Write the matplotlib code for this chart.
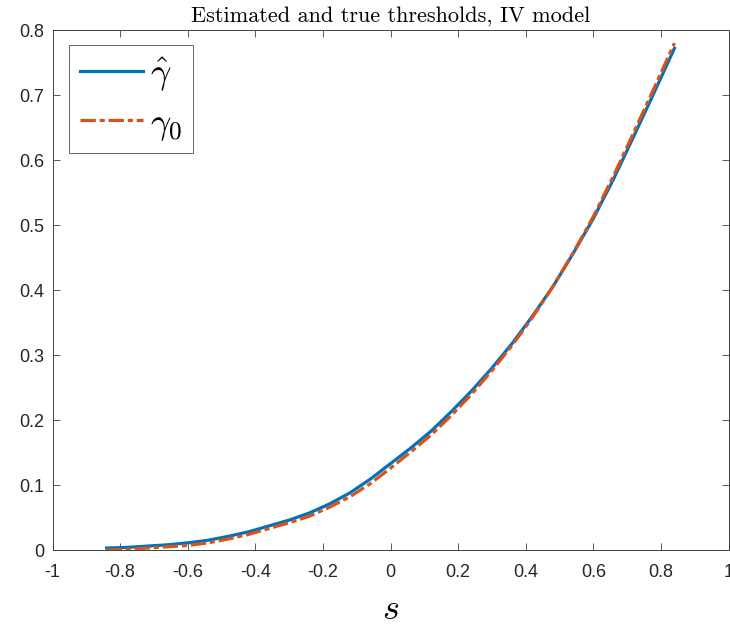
import numpy as np
import matplotlib
matplotlib.use("Agg")
import matplotlib.pyplot as plt

# values
s = [-0.84, -0.78, -0.72, -0.66, -0.60, -0.54, -0.48, -0.42, -0.36, -0.30,
     -0.24, -0.18, -0.12, -0.06, 0.00, 0.06, 0.12, 0.18, 0.24, 0.30,
     0.36, 0.42, 0.48, 0.54, 0.60, 0.66, 0.72, 0.78, 0.84]
gamma_hat = [0.003, 0.004, 0.006, 0.008, 0.011, 0.015, 0.021, 0.028, 0.037, 0.046,
             0.057, 0.071, 0.088, 0.109, 0.133, 0.157, 0.183, 0.213, 0.245, 0.280,
             0.318, 0.360, 0.405, 0.456, 0.510, 0.571, 0.637, 0.704, 0.772]
gamma_0 = [0.000, 0.001, 0.003, 0.005, 0.007, 0.011, 0.017, 0.024, 0.033, 0.042,
           0.052, 0.066, 0.082, 0.102, 0.126, 0.151, 0.177, 0.207, 0.240, 0.276,
           0.315, 0.358, 0.405, 0.457, 0.513, 0.576, 0.643, 0.711, 0.780]

xticks = [-1, -0.8, -0.6, -0.4, -0.2, 0, 0.2, 0.4, 0.6, 0.8, 1]
xtick_labels = ['-1', '-0.8', '-0.6', '-0.4', '-0.2', '0', '0.2', '0.4', '0.6', '0.8', '1']
yticks = [0, 0.1, 0.2, 0.3, 0.4, 0.5, 0.6, 0.7, 0.8]
ytick_labels = ['0', '0.1', '0.2', '0.3', '0.4', '0.5', '0.6', '0.7', '0.8']

plt.rcParams['mathtext.fontset'] = 'cm'

fig = plt.figure(figsize=(7.3, 6.27), dpi=100)
ax = fig.add_axes([0.072, 0.1228, 0.926, 0.8293])

ax.plot(s, gamma_hat, color='#0072BD', lw=2.3, label=r'$\hat{\gamma}$')
ax.plot(s, gamma_0, color='#D95319', lw=2.3, linestyle=(0, (4.8, 1.2, 1.6, 1.2)),
        label=r'$\gamma_0$')

ax.set_xlim(-1, 1)
ax.set_ylim(0, 0.8)
ax.set_xticks(xticks)
ax.set_xticklabels(xtick_labels, family='Liberation Sans', fontsize=13, color='#262626')
ax.set_yticks(yticks)
ax.set_yticklabels(ytick_labels, family='Liberation Sans', fontsize=13, color='#262626')
ax.tick_params(axis='both', direction='in', length=5, width=0.6, color='#404040',
               top=True, right=True)
ax.tick_params(axis='x', pad=10)
ax.tick_params(axis='y', pad=6)
for sp in ax.spines.values():
    sp.set_color('#404040')
    sp.set_linewidth(0.7)

ax.set_title('Estimated and true thresholds, IV model', family='cmr10',
             fontsize=16, pad=6)
ax.set_xlabel(r'$s$', fontsize=26, labelpad=8)

leg = ax.legend(loc='upper left', fontsize=26, handlelength=1.75, handletextpad=0.2,
                borderpad=0.3, labelspacing=0.32, fancybox=False,
                bbox_to_anchor=(0.024, 0.971), borderaxespad=0)
leg.get_frame().set_edgecolor('#404040')
leg.get_frame().set_linewidth(0.7)

fig.savefig('out.png', dpi=100)
